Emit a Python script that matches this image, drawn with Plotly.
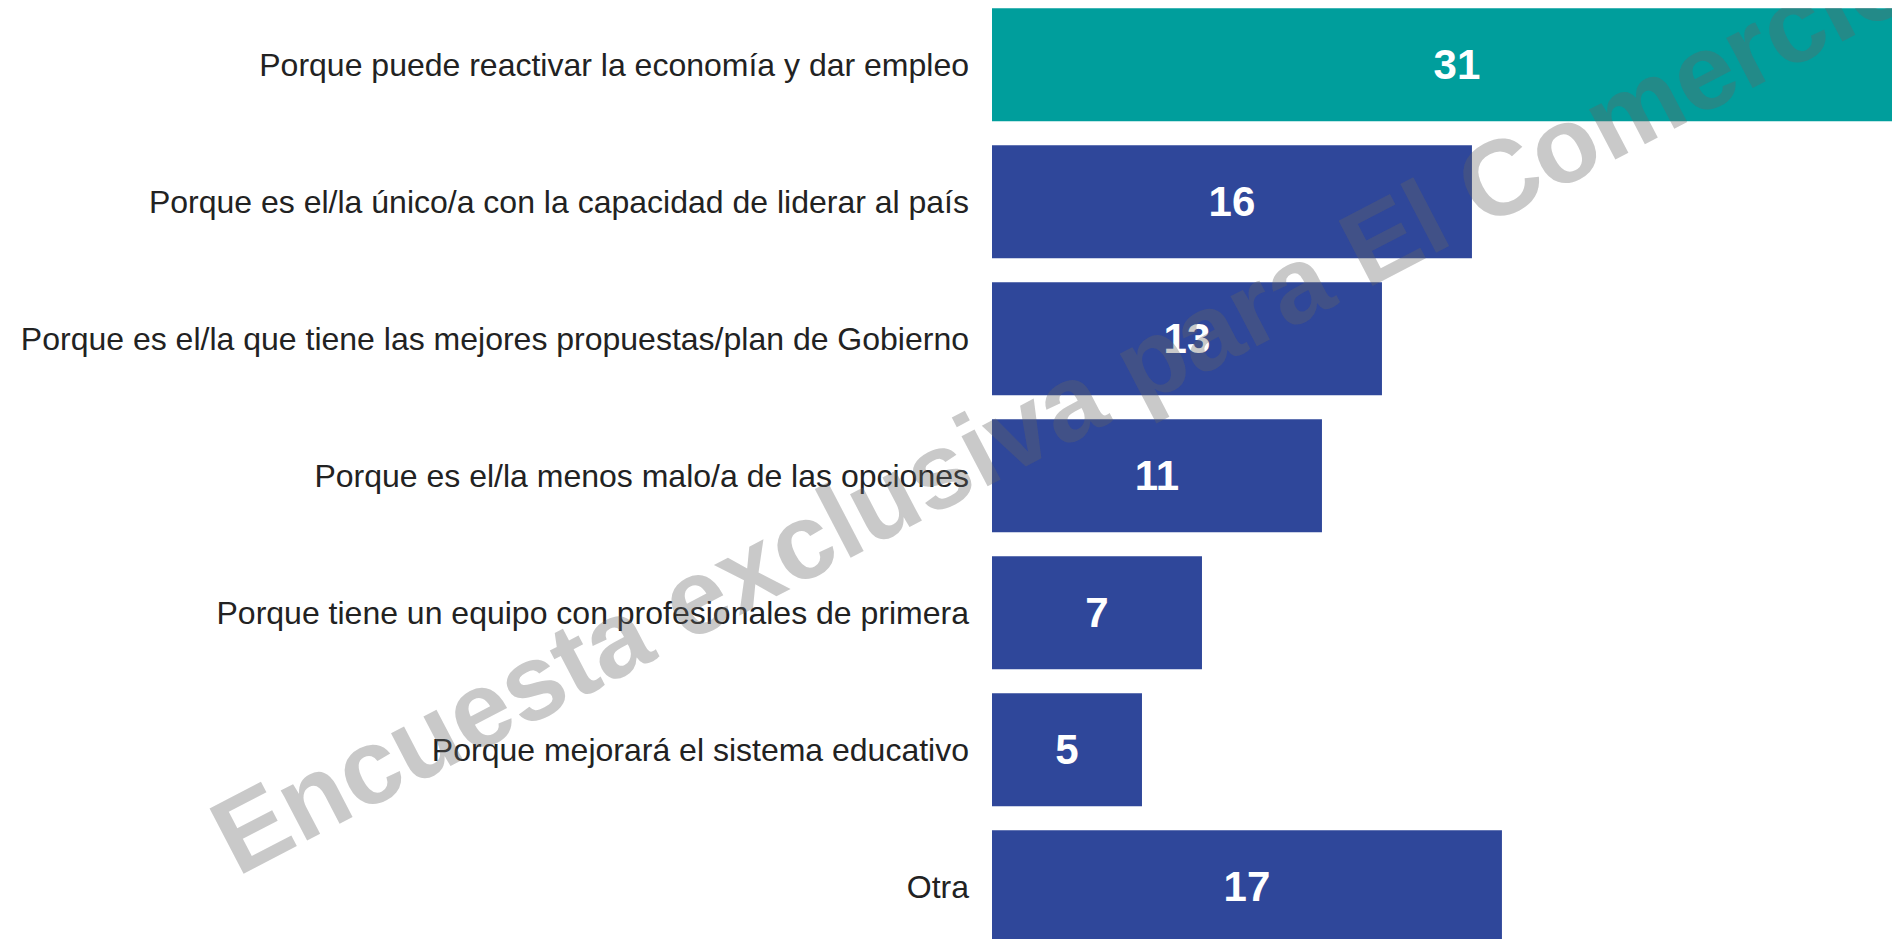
import plotly.graph_objects as go

categories = [
    "Porque puede reactivar la economía y dar empleo",
    "Porque es el/la único/a con la capacidad de liderar al país",
    "Porque es el/la que tiene las mejores propuestas/plan de Gobierno",
    "Porque es el/la menos malo/a de las opciones",
    "Porque tiene un equipo con profesionales de primera",
    "Porque mejorará el sistema educativo",
    "Otra",
]
values = [31, 16, 13, 11, 7, 5, 17]
colors = ["#009E9C", "#2F479A", "#2F479A", "#2F479A", "#2F479A", "#2F479A", "#2F479A"]

fig = go.Figure()
fig.add_trace(go.Bar(
    x=values,
    y=categories,
    orientation="h",
    marker=dict(color=colors, line=dict(width=0)),
    width=0.825,
    text=[str(v) for v in values],
    textposition="inside",
    insidetextanchor="middle",
    textangle=0,
    constraintext="none",
    textfont=dict(family="Arial", size=42, color="white", weight="bold"),
    hoverinfo="skip",
))

fig.update_layout(
    width=1900,
    height=939,
    margin=dict(l=984, r=8, t=0, b=0),
    paper_bgcolor="white",
    plot_bgcolor="white",
    showlegend=False,
    xaxis=dict(range=[0, 30.27], visible=False, fixedrange=True),
    yaxis=dict(
        type="category",
        categoryorder="array",
        categoryarray=categories,
        range=[6.439, -0.415],
        showgrid=False,
        zeroline=False,
        showline=False,
        ticks="",
        ticklabelstandoff=22,
        tickfont=dict(family="Arial", size=32, color="#222222"),
        fixedrange=True,
    ),
    annotations=[dict(
        text="<b>Encuesta exclusiva para El Comercio</b>",
        xref="paper", yref="paper",
        x=0.077, y=0.576,
        xanchor="center", yanchor="middle",
        showarrow=False,
        textangle=-27.5,
        font=dict(family="Arial", size=107, color="rgba(100,100,100,0.35)"),
    )],
)

fig.write_html("out.html")
